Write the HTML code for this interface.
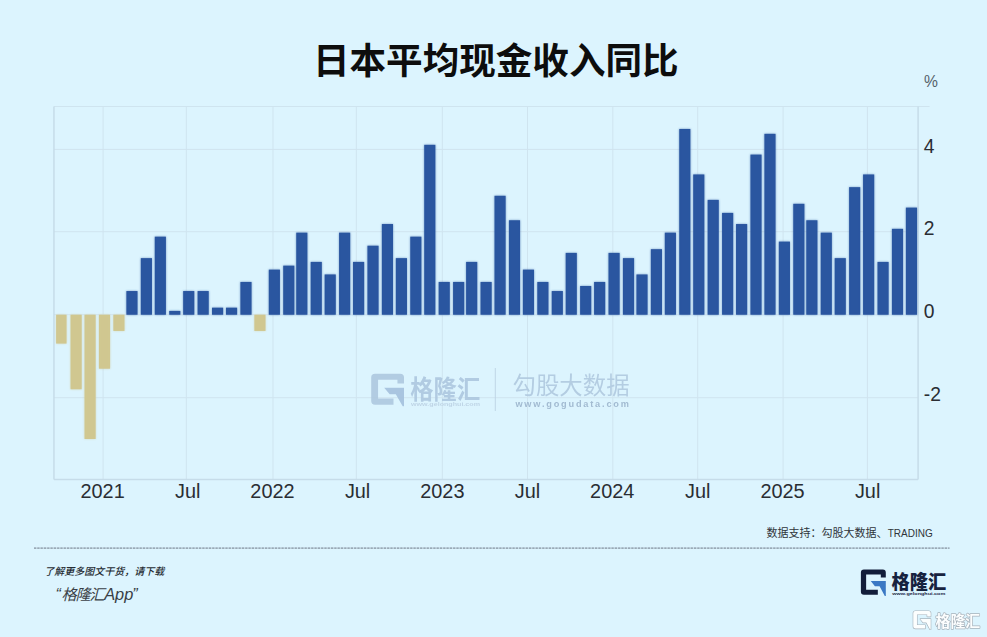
<!DOCTYPE html>
<html lang="zh"><head><meta charset="utf-8"><title>日本平均现金收入同比</title>
<style>html,body{margin:0;padding:0;background:#dcf4fe;}body{width:987px;height:637px;overflow:hidden;}svg{display:block;}.lat{font-family:"Liberation Sans",sans-serif;}.cjk{font-family:"Liberation Sans","Noto Sans CJK SC",sans-serif;}</style></head><body>
<svg width="987" height="637" viewBox="0 0 987 637">
<rect width="987" height="637" fill="#dcf4fe"/>
<text class="cjk" x="495.8" y="73.9" text-anchor="middle" font-size="36.6" font-weight="700" fill="#0d0d0d">日本平均现金收入同比</text>
<g stroke="#cfe4ef" stroke-width="1" fill="none">
<line x1="103.10" y1="106.50" x2="103.10" y2="479.60"/>
<line x1="186.30" y1="106.50" x2="186.30" y2="479.60"/>
<line x1="273.00" y1="106.50" x2="273.00" y2="479.60"/>
<line x1="356.30" y1="106.50" x2="356.30" y2="479.60"/>
<line x1="442.30" y1="106.50" x2="442.30" y2="479.60"/>
<line x1="527.50" y1="106.50" x2="527.50" y2="479.60"/>
<line x1="612.80" y1="106.50" x2="612.80" y2="479.60"/>
<line x1="697.70" y1="106.50" x2="697.70" y2="479.60"/>
<line x1="783.10" y1="106.50" x2="783.10" y2="479.60"/>
<line x1="867.40" y1="106.50" x2="867.40" y2="479.60"/>
<line x1="53.95" y1="149.40" x2="918.10" y2="149.40"/>
<line x1="53.95" y1="231.70" x2="918.10" y2="231.70"/>
<line x1="53.95" y1="314.70" x2="918.10" y2="314.70"/>
<line x1="53.95" y1="397.70" x2="918.10" y2="397.70"/>
<line x1="53.95" y1="106.50" x2="929.60" y2="106.50"/>
</g>
<g stroke="#c6dce9" stroke-width="1.5" fill="none">
<line x1="53.95" y1="106.50" x2="53.95" y2="479.60"/>
<line x1="918.10" y1="106.50" x2="918.10" y2="479.60"/>
<line x1="53.95" y1="479.60" x2="918.10" y2="479.60"/>
</g>
<defs><filter id="sb" x="-2%" y="-2%" width="104%" height="104%"><feGaussianBlur stdDeviation="1.0"/></filter></defs>
<g id="bars">
<rect x="56.11" y="314.75" width="10.45" height="28.83" fill="#d0c790"/>
<rect x="70.54" y="314.75" width="11.15" height="74.54" fill="#d0c790"/>
<rect x="84.50" y="314.75" width="11.15" height="124.25" fill="#d0c790"/>
<rect x="98.92" y="314.75" width="11.15" height="53.95" fill="#d0c790"/>
<rect x="113.35" y="314.75" width="11.15" height="16.19" fill="#d0c790"/>
<rect x="126.38" y="291.04" width="11.15" height="23.71" fill="#2a56a0"/>
<rect x="140.81" y="258.13" width="11.15" height="56.62" fill="#2a56a0"/>
<rect x="154.77" y="236.66" width="11.15" height="78.09" fill="#2a56a0"/>
<rect x="169.20" y="310.91" width="11.15" height="3.84" fill="#2a56a0"/>
<rect x="183.16" y="291.04" width="11.15" height="23.71" fill="#2a56a0"/>
<rect x="197.58" y="291.04" width="11.15" height="23.71" fill="#2a56a0"/>
<rect x="212.01" y="307.67" width="11.15" height="7.08" fill="#2a56a0"/>
<rect x="225.97" y="307.67" width="11.15" height="7.08" fill="#2a56a0"/>
<rect x="240.40" y="281.96" width="11.15" height="32.79" fill="#2a56a0"/>
<rect x="254.36" y="314.75" width="11.15" height="16.19" fill="#d0c790"/>
<rect x="268.79" y="269.62" width="11.15" height="45.13" fill="#2a56a0"/>
<rect x="283.21" y="265.65" width="11.15" height="49.10" fill="#2a56a0"/>
<rect x="296.24" y="232.65" width="11.15" height="82.10" fill="#2a56a0"/>
<rect x="310.67" y="261.92" width="11.15" height="52.83" fill="#2a56a0"/>
<rect x="324.63" y="274.45" width="11.15" height="40.30" fill="#2a56a0"/>
<rect x="339.06" y="232.65" width="11.15" height="82.10" fill="#2a56a0"/>
<rect x="353.02" y="261.92" width="11.15" height="52.83" fill="#2a56a0"/>
<rect x="367.44" y="245.71" width="11.15" height="69.04" fill="#2a56a0"/>
<rect x="381.87" y="224.04" width="11.15" height="90.71" fill="#2a56a0"/>
<rect x="395.83" y="258.13" width="11.15" height="56.62" fill="#2a56a0"/>
<rect x="410.26" y="236.66" width="11.15" height="78.09" fill="#2a56a0"/>
<rect x="424.22" y="144.82" width="11.15" height="169.93" fill="#2a56a0"/>
<rect x="438.65" y="281.96" width="11.15" height="32.79" fill="#2a56a0"/>
<rect x="453.07" y="281.96" width="11.15" height="32.79" fill="#2a56a0"/>
<rect x="466.10" y="261.92" width="11.15" height="52.83" fill="#2a56a0"/>
<rect x="480.53" y="281.96" width="11.15" height="32.79" fill="#2a56a0"/>
<rect x="494.49" y="195.78" width="11.15" height="118.97" fill="#2a56a0"/>
<rect x="508.92" y="220.24" width="11.15" height="94.51" fill="#2a56a0"/>
<rect x="522.88" y="269.62" width="11.15" height="45.13" fill="#2a56a0"/>
<rect x="537.30" y="281.96" width="11.15" height="32.79" fill="#2a56a0"/>
<rect x="551.73" y="291.04" width="11.15" height="23.71" fill="#2a56a0"/>
<rect x="565.69" y="252.90" width="11.15" height="61.85" fill="#2a56a0"/>
<rect x="580.12" y="285.98" width="11.15" height="28.77" fill="#2a56a0"/>
<rect x="594.08" y="281.96" width="11.15" height="32.79" fill="#2a56a0"/>
<rect x="608.51" y="252.90" width="11.15" height="61.85" fill="#2a56a0"/>
<rect x="622.93" y="258.13" width="11.15" height="56.62" fill="#2a56a0"/>
<rect x="636.43" y="274.45" width="11.15" height="40.30" fill="#2a56a0"/>
<rect x="650.85" y="249.18" width="11.15" height="65.57" fill="#2a56a0"/>
<rect x="664.81" y="232.65" width="11.15" height="82.10" fill="#2a56a0"/>
<rect x="679.24" y="128.97" width="11.15" height="185.78" fill="#2a56a0"/>
<rect x="693.20" y="174.45" width="11.15" height="140.30" fill="#2a56a0"/>
<rect x="707.63" y="199.88" width="11.15" height="114.87" fill="#2a56a0"/>
<rect x="722.06" y="212.90" width="11.15" height="101.85" fill="#2a56a0"/>
<rect x="736.02" y="224.04" width="11.15" height="90.71" fill="#2a56a0"/>
<rect x="750.44" y="154.58" width="11.15" height="160.17" fill="#2a56a0"/>
<rect x="764.40" y="133.83" width="11.15" height="180.92" fill="#2a56a0"/>
<rect x="778.83" y="241.60" width="11.15" height="73.15" fill="#2a56a0"/>
<rect x="793.26" y="203.81" width="11.15" height="110.94" fill="#2a56a0"/>
<rect x="806.29" y="220.24" width="11.15" height="94.51" fill="#2a56a0"/>
<rect x="820.71" y="232.65" width="11.15" height="82.10" fill="#2a56a0"/>
<rect x="834.67" y="258.13" width="11.15" height="56.62" fill="#2a56a0"/>
<rect x="849.10" y="187.15" width="11.15" height="127.60" fill="#2a56a0"/>
<rect x="863.06" y="174.45" width="11.15" height="140.30" fill="#2a56a0"/>
<rect x="877.49" y="261.92" width="11.15" height="52.83" fill="#2a56a0"/>
<rect x="891.92" y="228.84" width="11.15" height="85.91" fill="#2a56a0"/>
<rect x="905.88" y="207.61" width="11.15" height="107.14" fill="#2a56a0"/>
</g>
<use href="#bars" filter="url(#sb)" opacity="0.55"/>
<g class="lat" font-size="20.3" fill="#2a2d33">
<text transform="translate(923.8,152.80) scale(0.950,1.040)">4</text>
<text transform="translate(923.8,235.10) scale(0.950,1.040)">2</text>
<text transform="translate(923.8,318.10) scale(0.950,1.040)">0</text>
<text transform="translate(923.8,401.10) scale(0.950,1.040)">-2</text>
</g>
<text class="lat" transform="translate(924.1,87.0) scale(0.98,1.08)" font-size="16" fill="#55616a">%</text>
<g class="lat" font-size="20.3" fill="#2a2d33" text-anchor="middle">
<text transform="translate(102.60,497.7) scale(0.980,1.040)">2021</text>
<text transform="translate(187.73,497.7) scale(0.980,1.040)">Jul</text>
<text transform="translate(272.46,497.7) scale(0.980,1.040)">2022</text>
<text transform="translate(357.59,497.7) scale(0.980,1.040)">Jul</text>
<text transform="translate(442.32,497.7) scale(0.980,1.040)">2023</text>
<text transform="translate(527.45,497.7) scale(0.980,1.040)">Jul</text>
<text transform="translate(612.18,497.7) scale(0.980,1.040)">2024</text>
<text transform="translate(697.78,497.7) scale(0.980,1.040)">Jul</text>
<text transform="translate(782.51,497.7) scale(0.980,1.040)">2025</text>
<text transform="translate(867.64,497.7) scale(0.980,1.040)">Jul</text>
</g>
<g opacity="0.9">
<g transform="translate(371.2,373.7) scale(0.3280,0.3075)" fill="#aec8df">
<path d="M12 0H88Q100 0 100 12V32H80V20H21V81H68V101H12Q0 101 0 89V12Q0 0 12 0Z"/>
<path d="M39.6 45.8H100V106H96L75 66.7H56.3Z" fill="#a4c1dd"/>
</g>
<text class="cjk" transform="translate(410.3,398.7) scale(1,1.1)" font-size="23.3" font-weight="700" fill="#adc7df">格隆汇</text>
<text class="lat" x="411" y="405.6" font-size="5.6" font-weight="700" fill="#bcd2e4" textLength="69" lengthAdjust="spacingAndGlyphs">www.gelonghui.com</text>
<line x1="495.3" y1="368" x2="495.3" y2="411" stroke="#bcd3e4" stroke-width="1"/>
<text class="cjk" x="512.6" y="393.8" font-size="23.4" font-weight="400" fill="#b0c9df">勾股大数据</text>
<text class="lat" x="515.4" y="407.2" font-size="9.2" font-weight="700" fill="#9cb5cd" textLength="113.5" lengthAdjust="spacing">www.gogudata.com</text>
</g>
<text class="cjk" x="766.6" y="536.6" font-size="11" fill="#30343a">数据支持：勾股大数据、<tspan x="887.7" textLength="45" lengthAdjust="spacingAndGlyphs">TRADING</tspan></text>
<line x1="34" y1="548.1" x2="949.5" y2="548.1" stroke="#8a98a5" stroke-width="1.1" opacity="0.3"/>
<line x1="34" y1="548.1" x2="949.5" y2="548.1" stroke="#8a98a5" stroke-width="1.1" stroke-dasharray="2.2 1.1"/>
<text class="cjk" x="44.2" y="574.9" font-size="10" font-weight="500" font-style="italic" fill="#262c33">了解更多图文干货，请下载</text>
<text class="cjk" y="599.8" font-style="italic" fill="#3a3f46"><tspan x="55.6" font-size="16">“</tspan><tspan x="61.6" font-size="15.2" letter-spacing="-1.2">格隆汇</tspan><tspan x="104.2" font-size="16.4">App</tspan><tspan x="132.2" font-size="16">”</tspan></text>
<g transform="translate(860.9,569.6) scale(0.2490)">
<path d="M12 0H88Q100 0 100 12V32H80V20H21V81H68V101H12Q0 101 0 89V12Q0 0 12 0Z" fill="#121d3a"/>
<path d="M39.6 45.8H100V106H96L75 66.7H56.3Z" fill="#3a78c4"/>
</g>
<text class="cjk" transform="translate(891.6,588.6) scale(1,1.07)" font-size="18.2" font-weight="900" fill="#17223f">格隆汇</text>
<text class="lat" x="892.3" y="595.3" font-size="4.2" font-weight="700" fill="#17223f" textLength="53" lengthAdjust="spacingAndGlyphs">www.gelonghui.com</text>
<g stroke="#a3adb6" stroke-width="1.4" stroke-linejoin="round" paint-order="stroke" fill="#ffffff" opacity="0.92">
<g transform="translate(913.3,611.0) scale(0.1740)">
<path d="M12 0H88Q100 0 100 12V32H80V20H21V81H68V101H12Q0 101 0 89V12Q0 0 12 0Z" stroke-width="7"/>
<path d="M39.6 45.8H100V106H96L75 66.7H56.3Z" stroke-width="7"/>
</g>
<text class="cjk" transform="translate(935.6,626.6) scale(1,1.04)" font-size="14.9" font-weight="700">格隆汇</text>
</g>
</svg></body></html>
